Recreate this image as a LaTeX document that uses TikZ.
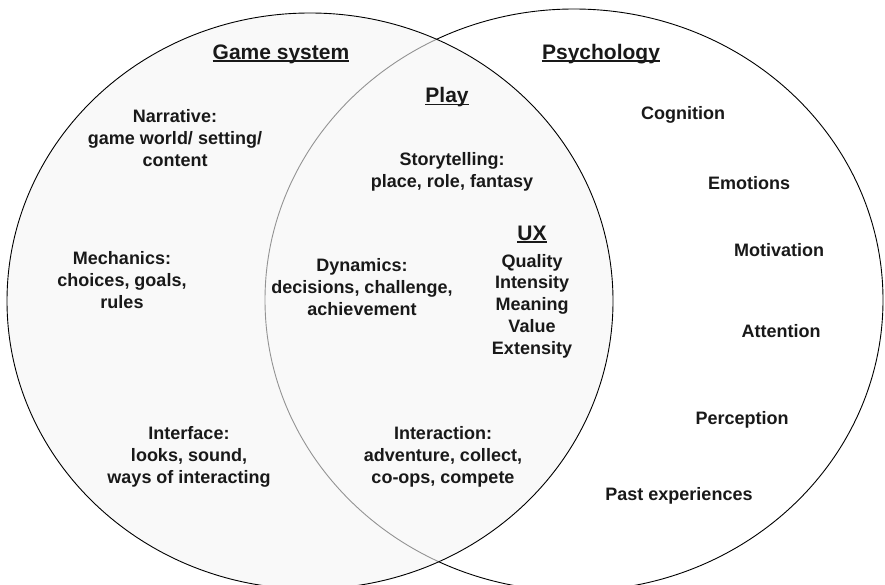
\documentclass[tikz,border=0pt]{standalone}
\usepackage{fontspec}
\setmainfont{Liberation Sans}
\usepackage{tikz}

\tikzset{
    lbl/.style={align=center, inner sep=0pt, text=black!90,
        font=\bfseries\fontsize{18}{21.7}\selectfont},
    ttl/.style={lbl, font=\bfseries\fontsize{21}{24}\selectfont},
    uline/.style={line width=1.8pt, black!90}
}

\begin{document}
\begin{tikzpicture}[x=1pt, y=-1pt]
        \useasboundingbox[fill=white] (0,0) rectangle (885,585);
        \draw[line width=0.9pt] (574,300) ellipse [x radius=309pt, y radius=291pt];
        \draw[line width=0.9pt, fill=black!4, fill opacity=0.6] (310,301) ellipse [x radius=303pt, y radius=288pt];

        \node[ttl] (game) at (281,54) {Game system};
        \node[ttl] (psy) at (601,54) {Psychology};
        \node[ttl] (play) at (447,97) {Play};
        \node[ttl] (ux) at (532,233) {UX};
        \foreach \t in {game, psy, play, ux}
            \draw[uline] ([yshift=-2pt]\t.base west) -- ([yshift=-2pt]\t.base east);

        \node[lbl] (narr) at (175,138) {Narrative:\\game world/ setting/\\content};
        \node[lbl] (mech) at (122,280) {Mechanics:\\choices, goals,\\rules};
        \node[lbl] (iface) at (189,457) {Interface:\\looks, sound,\\ways of interacting};

        \node[lbl] (story) at (452,172) {Storytelling:\\place, role, fantasy};
        \node[lbl] (dyn) at (362,287) {Dynamics:\\decisions, challenge,\\achievement};
        \node[lbl] (inter) at (443,457) {Interaction:\\adventure, collect,\\co-ops, compete};
        \node[lbl] (uxl) at (532,306) {Quality\\Intensity\\Meaning\\Value\\Extensity};

        \node[lbl] (cog) at (683,115) {Cognition};
        \node[lbl] (emo) at (749,183) {Emotions};
        \node[lbl] (mot) at (779,250) {Motivation};
        \node[lbl] (att) at (781,331) {Attention};
        \node[lbl] (perc) at (742,420) {Perception};
        \node[lbl] (past) at (679,496) {Past experiences};
    \end{tikzpicture}
\end{document}
